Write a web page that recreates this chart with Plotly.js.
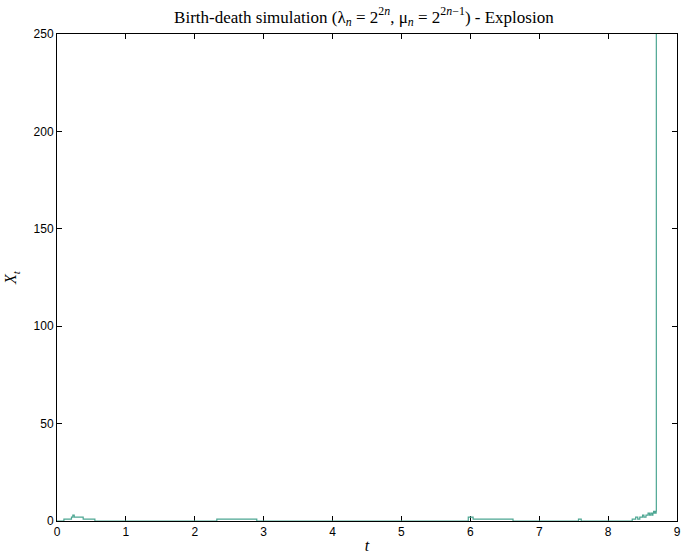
<!DOCTYPE html>
<html>
<head>
<meta charset="utf-8">
<script src="https://cdn.plot.ly/plotly-3.0.1.min.js"></script>
<style>html,body{margin:0;padding:0;background:#fff;}#chart{width:681px;height:556px;}</style>
</head>
<body>
<div id="chart"></div>
<script>
// Jump times of the birth-death process and the state after each jump
const jumpTimes = [0, 0.10, 0.21, 0.23, 0.25, 0.38, 0.55, 2.32, 2.90, 5.97, 6.04, 6.62, 7.57, 7.61,
  8.35, 8.40, 8.43, 8.46, 8.50, 8.52, 8.55, 8.58, 8.60, 8.62, 8.64, 8.65, 8.66, 8.67, 8.68, 8.69,
  8.697, 8.7];
const states = [0, 1, 2, 3, 2, 1, 0, 1, 0, 2, 1, 0, 1, 0,
  1, 2, 1, 2, 3, 2, 3, 4, 3, 4, 3, 4, 5, 4, 5, 4,
  5, 400];
const xTicks = [0, 1, 2, 3, 4, 5, 6, 7, 8, 9];
const yTicks = [0, 50, 100, 150, 200, 250];

const trace = {
  x: jumpTimes, y: states, type: 'scatter', mode: 'lines',
  line: {shape: 'hv', color: 'rgb(76,166,146)', width: 1.2},
  cliponaxis: false,
  hoverinfo: 'skip'
};
const axisCommon = {
  showgrid: false, zeroline: false, showline: true, linecolor: '#000', linewidth: 1,
  mirror: 'ticks', ticks: 'inside', ticklen: 5, tickcolor: '#000', tickwidth: 1,
  layer: 'below traces',
  tickfont: {family: 'Liberation Sans, Arial, sans-serif', size: 12, color: '#000'}
};
const layout = {
  width: 681, height: 556,
  margin: {l: 57, r: 4, t: 34, b: 35},
  paper_bgcolor: '#fff', plot_bgcolor: '#fff',
  showlegend: false,
  title: {
    text: 'Birth-death simulation (λ<sub><i>n</i></sub> = 2<sup>2<i>n</i></sup>, μ<sub><i>n</i></sub> = 2<sup>2<i>n</i>−1</sup>) - Explosion',
    font: {family: 'Liberation Serif, Times New Roman, serif', size: 17, color: '#000'},
    xref: 'paper', x: 0.495, xanchor: 'center', yref: 'container', y: 0.97, yanchor: 'middle'
  },
  xaxis: Object.assign({}, axisCommon, {
    range: [0, 9], tickvals: xTicks, ticktext: xTicks.map(String),
    title: {text: '<i>t</i>', font: {family: 'Liberation Serif, serif', size: 16, color: '#000'}, standoff: 1}
  }),
  yaxis: Object.assign({}, axisCommon, {
    range: [0, 250], tickvals: yTicks, ticktext: yTicks.map(String),
    title: {text: '<i>X<sub>t</sub></i>', font: {family: 'Liberation Serif, serif', size: 16, color: '#000'}, standoff: 12}
  })
};
Plotly.newPlot('chart', [trace], layout, {displayModeBar: false, staticPlot: true});
</script>
</body>
</html>
